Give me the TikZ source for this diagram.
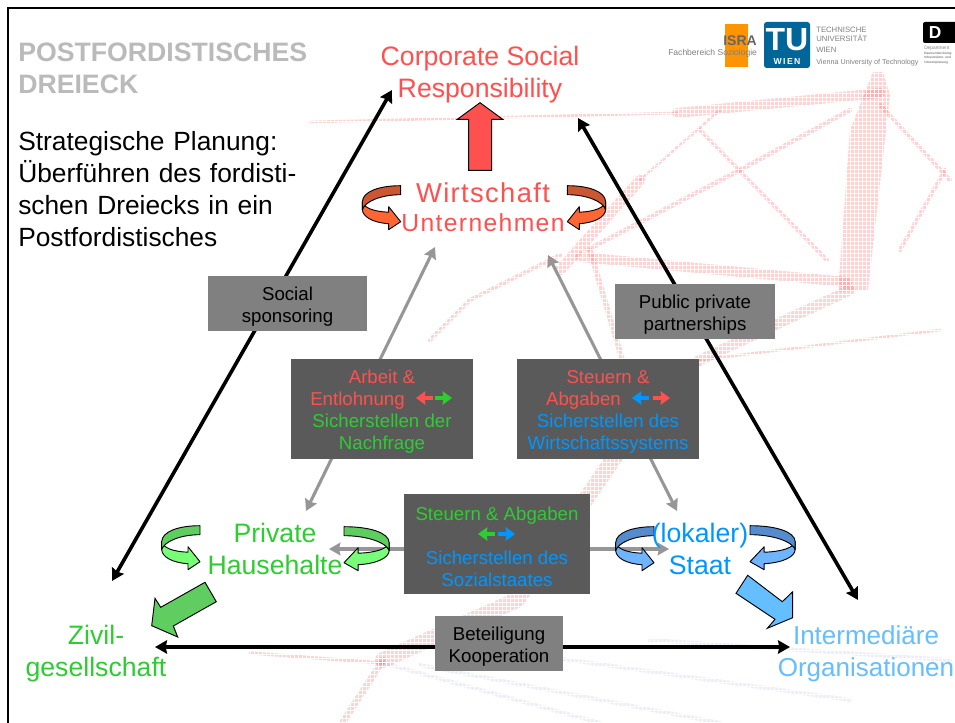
\documentclass[tikz,border=0pt]{standalone}
\usepackage{fontspec}
\setmainfont{Liberation Sans}
\usetikzlibrary{arrows.meta}
\definecolor{cred}{RGB}{255,80,80}
\definecolor{cgreen}{RGB}{45,205,50}
\definecolor{cblue}{RGB}{0,150,255}
\definecolor{clblue}{RGB}{100,190,255}
\definecolor{boxdark}{RGB}{90,90,90}
\definecolor{boxgray}{RGB}{128,128,128}
\definecolor{arrgray}{RGB}{150,150,150}
\definecolor{tuarrow}{RGB}{0,102,153}
\definecolor{odark}{RGB}{204,85,51}
\definecolor{olight}{RGB}{255,102,51}
\definecolor{gdark}{RGB}{95,205,95}
\definecolor{glight}{RGB}{120,255,120}
\definecolor{bdark}{RGB}{85,140,205}
\definecolor{blight}{RGB}{110,180,255}
\newcommand{\fs}[2]{\fontsize{#1}{#2}\selectfont}
\newcommand{\tup}{\rule{0pt}{14.5pt}}
\newcommand{\uturn}[5]{%
 \begin{scope}[shift={(#1,#2)},xscale=#3]
  \draw[black,line width=.7pt,line join=round,fill=#5] (-38.3,-20) .. controls (-37,-14) and (-27,-10) .. (-12,-9.5) -- (-12,-15) -- (0,0) -- (-12,8) -- (-12,2) .. controls (-28,1) and (-38,-5) .. (-38.3,-12) -- cycle;
  \draw[black,line width=.7pt,line join=round,fill=#4] (0,-36) .. controls (-22,-36) and (-38,-30) .. (-38.3,-20) -- (-38.3,-12) .. controls (-36,-20) and (-20,-27) .. (0,-27) -- cycle;
 \end{scope}}
\tikzset{
 x=0.75pt,y=-0.75pt,
 bg/.style={line width=#1,opacity=.22,color=red!80!white,line cap=round},
 bgb/.style={line width=#1,opacity=.10,color=blue!70!white,line cap=round},
 blackarrow/.style={line width=2.7pt,black,{Stealth[length=9pt,width=10pt,inset=1pt]}-{Stealth[length=9pt,width=10pt,inset=1pt]}},
 grayarrow/.style={line width=2.3pt,arrgray,{Stealth[length=8.5pt,width=9.5pt,inset=1pt]}-{Stealth[length=8.5pt,width=9.5pt,inset=1pt]}},
 mini/.style={line width=2.6pt,-{Stealth[length=7pt,width=10pt,inset=.5pt]}},
 darkbox/.style={fill=boxdark,inner sep=0pt,minimum width=#1*0.75pt,minimum height=75pt,align=center,font=\fs{14}{16.6}},
 graybox/.style={fill=boxgray,inner sep=0pt,minimum height=41.25pt,minimum width=#1*0.75pt,align=center,text=black,font=\fs{14}{16.8}},
 biglabel/.style={align=center,font=\fs{20}{24}},
 blockarrow/.style={draw=black,line width=.7pt,line join=miter},
 logotext/.style={inner sep=0pt,anchor=base west,text=black!50},
}
\begin{document}
\begin{tikzpicture}
\useasboundingbox (0,0) rectangle (955,723);
\fill[white] (0,0) rectangle (955,723);
% faint background network
\begin{scope}
 \fill[red!80!white,opacity=.22] (873,72) -- (883,72) -- (890,95) -- (868,290) -- (838,292) -- (850,130) -- cycle;
 \draw[bg=7.5pt] (677,113) -- (880,93);
 \draw[bg=7.5pt] (580,257) -- (847,282);
 \draw[bg=3.5pt] (587,250) -- (740,170) -- (850,110);
 \draw[bg=3pt] (700,130) -- (827,260);
 \draw[bg=3pt] (880,105) -- (950,180);
 \draw[bg=2pt] (310,122) -- (677,113);
 \draw[bg=2pt] (640,180) -- (720,110);
 \draw[bg=3pt] (900,250) -- (945,170);
 \draw[bg=8pt] (850,290) -- (700,360) -- (620,420);
 \draw[bg=12pt] (640,420) -- (517,600) -- (383,660);
 \draw[bg=5pt] (383,660) -- (343,722);
 \draw[bg=2.5pt] (250,653) -- (383,663);
 \draw[bg=8pt] (640,180) -- (560,270);
 \draw[bg=3pt] (560,255) -- (470,300) -- (430,340);
 \draw[bg=4pt] (590,250) -- (640,420);
 \draw[bg=2pt] (700,360) -- (940,330);
 \draw[bgb=3pt] (383,663) -- (600,723);
 \draw[bgb=3pt] (420,665) -- (720,723);
 \draw[bgb=3pt] (500,650) -- (850,700);
 \draw[bgb=3pt] (650,640) -- (950,660);
 \foreach \gx in {2,6,...,954} {\draw[white,line width=.75pt] (\gx,0) -- (\gx,723);}
 \foreach \gy in {2,6,...,722} {\draw[white,line width=.75pt] (0,\gy) -- (955,\gy);}
\end{scope}
% border
\draw[black,line width=2.2pt] (8,723) -- (8,8) -- (955,8);
% logos
\fill[orange!85!yellow] (725,24) rectangle (748,67);
\node[logotext,text=black!60,font=\bfseries\fs{10.5}{10}] (isra) at (723,46) {ISRA};
\node[logotext,font=\fs{6.4}{7}] (fach) at (668,56) {Fachbereich Soziologie};
\fill[tuarrow,rounded corners=2pt] (764,22) rectangle (810,68);
\node[inner sep=0pt,text=white,font=\bfseries\fs{24}{24}] (tu) at (787,40) {TU};
\node[inner sep=0pt,text=white,font=\bfseries\fs{6.5}{7}] (wien) at (787,62) {W\,I\,E\,N};
\node[logotext,font=\fs{5.8}{6}] (t1) at (816,33) {TECHNISCHE};
\node[logotext,font=\fs{5.8}{6}] (t2) at (816,42) {UNIVERSITÄT};
\node[logotext,font=\fs{5.8}{6}] (t3) at (816,53) {WIEN};
\node[logotext,font=\fs{5.4}{6}] (t4) at (816,65) {Vienna University of Technology};
\fill[black,rounded corners=1.5pt] (923,22) rectangle (960,43);
\node[inner sep=0pt,text=white,font=\bfseries\fs{13}{13}] (dl) at (935,33) {D};
\node[logotext,font=\fs{3.6}{4}] (d1) at (924,50) {Department};
\node[logotext,font=\bfseries\fs{2.4}{3}] (d2) at (924,55) {Raumentwicklung};
\node[logotext,font=\bfseries\fs{2.4}{3}] (d3) at (924,59) {Infrastruktur- und};
\node[logotext,font=\bfseries\fs{2.4}{3}] (d4) at (924,64) {Umweltplanung};
% title
\node[inner sep=0pt,anchor=north west,align=left,text width=320*0.75pt,text=black!27,font=\bfseries\fs{20}{24}] (title) at (18,43) {POSTFORDISTISCHES\\DREIECK};
\node[inner sep=0pt,anchor=north west,align=left,text width=320*0.75pt,text=black,font=\fs{19.75}{24}] (plan) at (18,131) {Strategische Planung:\\Überführen des fordisti-\\schen Dreiecks in ein\\Postfordistisches};
% coordinates of the connector ends
\coordinate (csrL) at (392,90);
\coordinate (zivT) at (112,581);
\coordinate (csrR) at (578,118);
\coordinate (intT) at (858,600);
\coordinate (zivR) at (155,647);
\coordinate (intL) at (790,647);
\coordinate (untL) at (435,247);
\coordinate (priT) at (306,511);
\coordinate (untR) at (548,255);
\coordinate (staT) at (677,511);
\coordinate (priR) at (329,549);
\coordinate (staL) at (669,549);
% connectors
\draw[grayarrow] (untL) -- (priT);
\draw[grayarrow] (untR) -- (staT);
\draw[grayarrow] (priR) -- (staL);
\draw[blackarrow] (csrL) -- (zivT);
\draw[blackarrow] (csrR) -- (intT);
\draw[blackarrow] (zivR) -- (intL);
% U-turn arrows
\uturn{400.7}{221.7}{1}{odark}{olight}
\uturn{567.3}{221.7}{-1}{odark}{olight}
\uturn{200}{561.7}{1}{gdark}{glight}
\uturn{344}{562.7}{-1.18}{gdark}{glight}
\uturn{654}{562.7}{1}{bdark}{blight}
\uturn{750}{561.7}{-1.18}{bdark}{blight}
% block arrows
\draw[blockarrow,fill=cred] (480,102.7) -- (502.7,119.3) -- (491.7,119.3) -- (491.7,170.3) -- (468.7,170.3) -- (468.7,119.3) -- (457.3,119.3) -- cycle;
\draw[blockarrow,fill=gdark] (205,582.3) -- (216.3,601.7) -- (173.3,626) -- (177.7,637) -- (151.7,625.7) -- (155,598.3) -- (160.7,607.3) -- cycle;
\draw[blockarrow,fill=clblue] (747.7,575.3) -- (782.3,601.7) -- (792.7,591.7) -- (792.7,617.7) -- (767.3,628.3) -- (775,619.3) -- (736,593.3) -- cycle;
% big labels
\node[biglabel,text=cred] (csr) at (480,75) {Corporate Social\\Responsibility};
\node[inner sep=0pt,anchor=base,text=cred,font=\fs{20.5}{24}\addfontfeature{LetterSpace=5}] (wirt) at (483,203) {Wirtschaft};
\node[inner sep=0pt,anchor=base,text=cred,font=\fs{18.5}{22}\addfontfeature{LetterSpace=5.5}] (unt) at (483,232) {Unternehmen};
\node[biglabel,text=cgreen] (priv) at (275,549) {Private\\Hausehalte};
\node[biglabel,text=cblue] (staat) at (700,549) {(lokaler)\\Staat};
\node[biglabel,text=cgreen] (ziv) at (96,654) {Zivil-\\gesellschaft};
\node[align=center,font=\fs{19.5}{24},text=clblue] (inter) at (866,654) {Intermediäre\\Organisationen};
% dark boxes
\node[darkbox=182] (b1) at (382,409) {\tup\color{cred}Arbeit \&\\\color{cred}Entlohnung\hspace*{36.75pt}\\\color{cgreen}Sicherstellen der\\\color{cgreen}Nachfrage};
\node[darkbox=182] (b2) at (608,409) {\tup\color{cred}Steuern \&\\\color{cred}Abgaben\hspace*{36.75pt}\\\color{cblue}Sicherstellen des\\\color{cblue}Wirtschaftssystems};
\node[darkbox=186] (b3) at (497,544) {\tup\color{cgreen}Steuern \& Abgaben\\\phantom{X}\\\color{cblue}Sicherstellen des\\\color{cblue}Sozialstaates};
% small double arrows inside the boxes
\draw[mini,cred] (433,398) -- (416,398);
\draw[mini,cgreen] (435,398) -- (452,398);
\draw[mini,cblue] (649,398) -- (632,398);
\draw[mini,cred] (653,398) -- (670,398);
\draw[mini,cgreen] (495,534) -- (478,534);
\draw[mini,cblue] (498,534) -- (515,534);
% grey boxes
\node[graybox=159] (b4) at (287.5,303.5) {\tup Social\\sponsoring};
\node[graybox=160] (b5) at (695,311.5) {\tup Public private\\partnerships};
\node[graybox=128] (b6) at (499,643.5) {\tup Beteiligung\\Kooperation};
\end{tikzpicture}
\end{document}
